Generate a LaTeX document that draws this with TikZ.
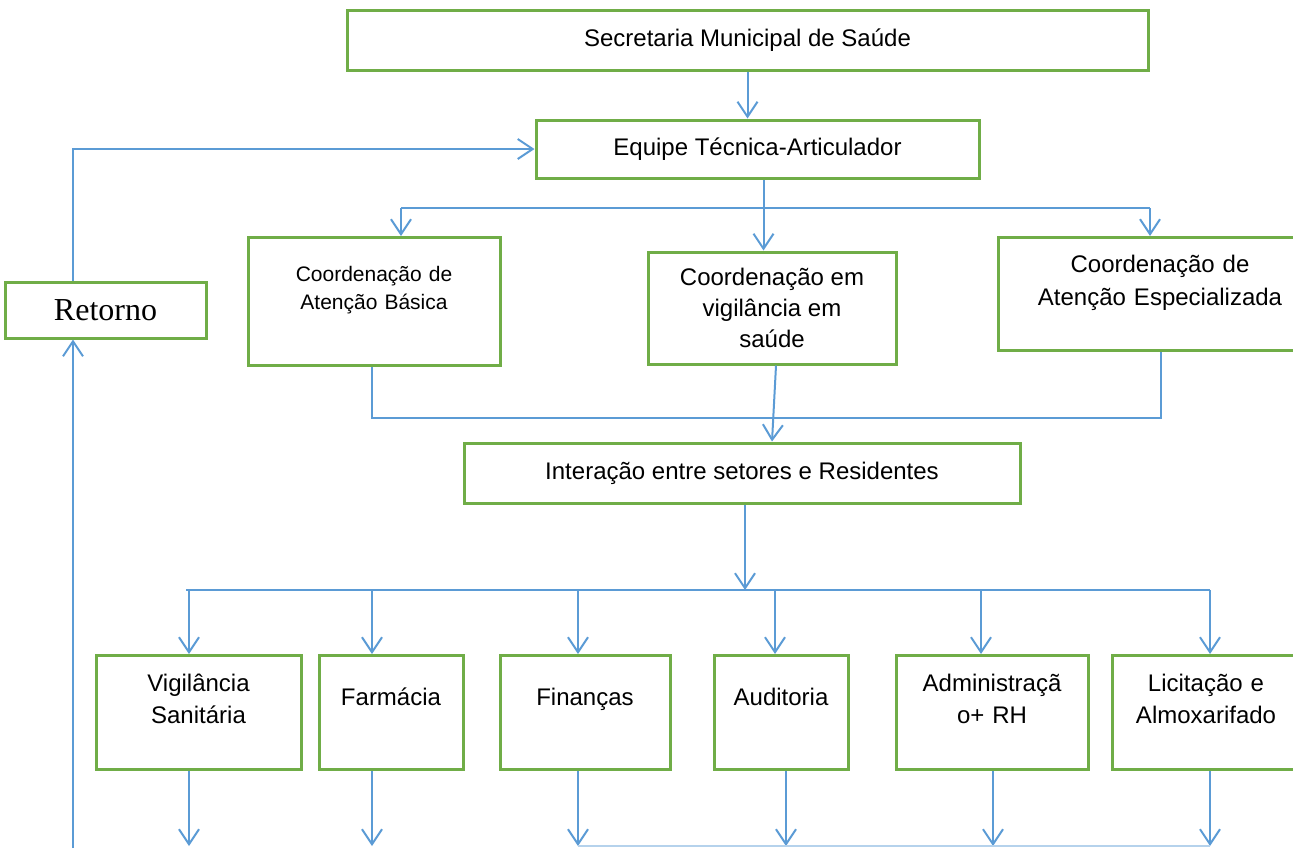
\documentclass[tikz,border=0pt]{standalone}
\usepackage{fontspec}
\setmainfont{Liberation Sans}
\newfontfamily\retornofont{Liberation Serif}
\usetikzlibrary{arrows.meta,calc,positioning}
\definecolor{orgblue}{HTML}{5B9BD5}
\definecolor{orggreen}{HTML}{70AD47}
\tikzset{
  orgbox/.style={draw=orggreen, line width=1.5pt, fill=white, inner sep=0pt,
    align=center, font=\fontsize{12}{15.5}\selectfont},
  topbox/.style={orgbox, anchor=north},
  orgflow/.style={draw=orgblue, line width=1pt,
    -{Straight Barb[length=7.5pt, width=10pt, line width=1pt]}},
  orgflowthin/.style={draw=orgblue, line width=.6pt,
    -{Straight Barb[length=7.5pt, width=10pt, line width=1pt]}},
  orgline/.style={draw=orgblue, line width=.6pt}
}

\begin{document}
\begin{tikzpicture}[x=.5pt,y=-.5pt]
  \useasboundingbox (0,0) rectangle (1293,848);
  \clip (0,0) rectangle (1293,848);

  % top of the chart
  \node[orgbox, minimum width=400.5pt, minimum height=30pt] (sec) at (747.5,40) {Secretaria Municipal de Saúde};
  \node[orgbox, minimum width=221.5pt, minimum height=29pt] (equipe) at (757.5,149) {Equipe Técnica-Articulador};
  \node[orgbox, font=\retornofont\fontsize{16}{19}\selectfont,
    minimum width=100.5pt, minimum height=28pt] (retorno) at (105.5,310) {Retorno};

  % coordinations
  \node[topbox, text width=126pt, font=\fontsize{10.5}{14}\selectfont,
    text height=21.75pt, text depth=42.25pt] (basica) at (374,236) {Coordenação de\\Atenção Básica};
  \node[orgbox, minimum width=124pt, minimum height=56pt] (vigil) at (772,308) {Coordenação em\\vigilância em\\saúde};
  \node[topbox, text width=162pt, font=\fontsize{12}{16.5}\selectfont,
    text height=17.3pt, text depth=39.2pt] (espec) at (1160,236) {Coordenação de\\Atenção Especializada};

  \node[orgbox, minimum width=278pt, minimum height=30pt] (inter) at (742,473) {Interação entre setores e Residentes};

  % sectors
  \tikzset{sector/.style={topbox, font=\fontsize{12}{16}\selectfont,
    text height=17.8pt, text depth=39.2pt},
    sectorone/.style={topbox, text height=24.8pt, text depth=32.2pt}}
  \node[sector, text width=102.5pt] (vs) at (198.5,654) {Vigilância\\Sanitária};
  \node[sectorone, text width=72pt] (farm) at (391,654) {Farmácia};
  \node[sectorone, text width=85pt] (fin) at (585,654) {Finanças};
  \node[sectorone, text width=67pt] (aud) at (781,654) {Auditoria};
  \node[sector, text width=96pt] (adm) at (992,654) {Administraçã\\o+ RH};
  \node[sector, text width=94pt] (lic) at (1206,654) {Licitação e\\Almoxarifado};

  \coordinate (split1) at (0,208);
  \coordinate (join1) at (0,418);
  \coordinate (split2) at (0,590);
  \coordinate (bottom) at (0,846);
  \coordinate (edge) at (0,848);

  % connectors
  \draw[orgflow] (sec.south) -- (sec.south |- equipe.north);
  \draw[orgflow] ([xshift=-16.25pt]retorno.north) |- (equipe.west);
  \draw[orgflow] ([xshift=-16.25pt]retorno.south |- edge) -- ([xshift=-16.25pt]retorno.south);

  \draw[orgflow] ([xshift=3pt]equipe.south) -- ([xshift=3pt]equipe.south |- vigil.north);
  \draw[orgline] ([xshift=13.5pt]basica.north |- split1) -- ([xshift=-5pt]espec.north |- split1);
  \draw[orgflowthin] ([xshift=13.5pt]basica.north |- split1) -- ([xshift=13.5pt]basica.north);
  \draw[orgflowthin] ([xshift=-5pt]espec.north |- split1) -- ([xshift=-5pt]espec.north);

  \draw[orgline] ([xshift=-1pt]basica.south) -- ([xshift=-1pt]basica.south |- join1)
    -- ([xshift=.5pt]espec.south |- join1) -- ([xshift=.5pt]espec.south);
  \draw[orgflow] ([xshift=2pt]vigil.south) -- (vigil.south |- inter.north);

  \draw[orgflow] ([xshift=1.5pt]inter.south) -- ([xshift=1.5pt]inter.south |- split2);
  \draw[orgline] ([xshift=-6.25pt]vs.north |- split2) -- ([xshift=2pt]lic.north |- split2);
  \foreach \n/\dx in {vs/-4.75, farm/-9.5, fin/-3.5, aud/-3, adm/-5.5, lic/2}
    \draw[orgflow] ([xshift=\dx pt]\n.north |- split2) -- ([xshift=\dx pt]\n.north);

  \foreach \n/\dx in {vs/-4.75, farm/-9.5, fin/-3.5, aud/2.5, adm/.5, lic/2}
    \draw[orgflow] ([xshift=\dx pt]\n.south) -- ([xshift=\dx pt]\n.south |- bottom);
  \draw[orgline, draw=orgblue!45] ([xshift=-3.5pt]fin.south |- bottom) -- ([xshift=2pt]lic.south |- bottom);
\end{tikzpicture}
\end{document}
